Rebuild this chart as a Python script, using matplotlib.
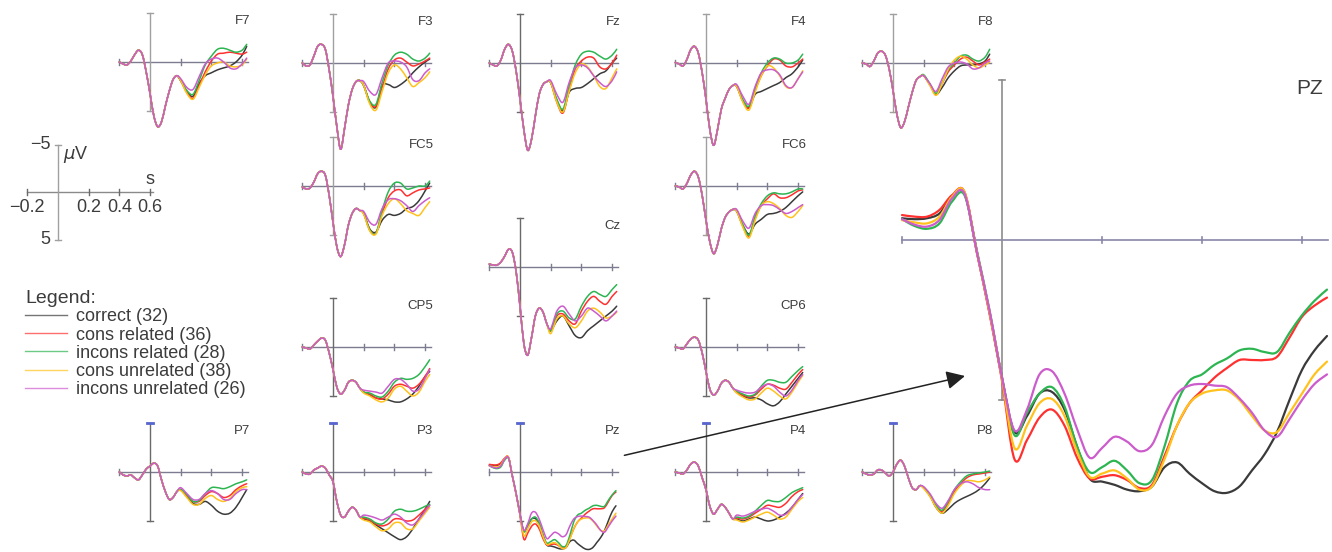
import matplotlib
matplotlib.use('Agg')
import matplotlib.pyplot as plt
from matplotlib.lines import Line2D
from matplotlib.patches import ConnectionPatch, PathPatch
from matplotlib.path import Path

plt.rcParams['font.family'] = ['Liberation Sans', 'DejaVu Sans']

# ---------------- data ----------------
conditions = ['correct (32)', 'cons related (36)', 'incons related (28)',
              'cons unrelated (38)', 'incons unrelated (26)']
cond_colors = ['#3a3a3a', '#ff3030', '#2db552', '#ffc21c', '#cc5ccc']

# time (s): early part is shared by all conditions, late part per condition
t_early = [-0.2, -0.175, -0.15, -0.125, -0.1, -0.075, -0.05, -0.025, 0.0,
           0.025, 0.05, 0.075, 0.1, 0.125, 0.15, 0.175]
t_late = [0.2, 0.24, 0.28, 0.32, 0.36, 0.40, 0.44, 0.48, 0.52, 0.56, 0.60, 0.63]

F7_early = [0.0, 0.2, 0.3, -0.1, -0.75, -1.2, -0.75, 1.0, 3.2, 5.5, 6.6, 6.1, 4.5, 3.0, 1.8, 1.4]
F7_late = [
    [1.9, 3.0, 3.5, 2.2, 1.4, 1.1, 0.8, 0.6, 0.4, 0.0, -0.7, -1.6],
    [1.9, 3.1, 3.7, 2.4, 1.0, -0.1, -0.8, -0.9, -1.0, -0.9, -0.8, -1.0],
    [1.9, 2.9, 3.3, 1.9, 0.3, -0.6, -1.3, -1.4, -1.2, -1.0, -1.2, -1.8],
    [1.9, 3.2, 3.8, 2.6, 1.3, 0.4, 0.1, 0.0, 0.4, 0.5, 0.3, -0.3],
    [1.7, 2.6, 2.8, 1.5, 0.2, -0.3, -0.4, 0.0, 0.6, 0.7, 0.2, -0.4]]

F3_early = [0.0, 0.3, 0.2, -0.7, -1.7, -1.9, -1.4, 0.7, 3.4, 6.5, 8.8, 6.7, 4.3, 2.7, 1.9, 1.8]
F3_late = [
    [2.3, 4.0, 4.5, 2.3, 2.2, 2.5, 2.2, 1.7, 1.0, 0.4, -0.1, -0.4],
    [2.3, 4.0, 4.4, 2.5, 0.6, -0.3, -0.5, -0.1, 0.3, 0.1, -0.2, -0.5],
    [2.3, 3.9, 4.2, 2.0, 0.2, -0.8, -1.1, -0.9, -0.4, -0.2, -0.5, -1.0],
    [2.3, 4.2, 4.8, 2.9, 1.0, 0.2, 0.6, 1.5, 2.4, 2.0, 1.5, 0.9],
    [1.9, 2.9, 3.2, 1.5, 0.0, -0.2, -0.1, 0.4, 1.7, 1.8, 1.0, 0.6]]

Fz_early = [0.0, 0.2, 0.3, -0.3, -1.4, -1.9, -1.2, 0.85, 3.7, 6.8, 8.9, 7.8, 5.4, 3.2, 2.2, 1.9]
Fz_late = [
    [2.0, 3.8, 4.9, 3.0, 2.6, 2.5, 2.1, 1.6, 1.1, 0.8, 0.0, -0.5],
    [2.0, 4.0, 5.1, 2.8, 0.6, -0.2, -0.6, -0.5, 0.4, 0.6, 0.0, -0.8],
    [2.0, 3.7, 4.7, 2.3, 0.2, -0.9, -1.2, -1.1, -0.7, -0.4, -0.8, -1.4],
    [2.0, 4.0, 5.0, 2.9, 1.0, 0.1, 0.4, 1.3, 2.4, 2.6, 1.5, 0.6],
    [1.8, 3.2, 4.0, 2.0, 0.5, 0.2, 0.5, 1.3, 2.0, 2.4, 1.8, 0.9]]

F4_early = [-0.05, 0.1, 0.3, -0.35, -1.35, -1.7, -1.0, 1.0, 3.7, 6.8, 8.4, 6.8, 4.7, 3.6, 2.7, 2.3]
F4_late = [
    [2.4, 3.8, 4.5, 3.2, 2.9, 2.6, 2.3, 2.0, 1.5, 1.1, 0.4, -0.3],
    [2.4, 3.9, 4.6, 2.8, 1.3, 0.3, -0.4, -0.3, 0.3, 0.4, 0.0, -0.4],
    [2.3, 3.8, 4.4, 2.6, 1.0, 0.0, -0.5, -0.4, 0.0, 0.0, -0.3, -0.9],
    [2.4, 4.0, 4.8, 3.0, 1.3, 0.3, 0.5, 1.3, 2.4, 2.5, 1.6, 0.8],
    [2.2, 3.4, 4.2, 2.4, 1.0, 0.7, 0.7, 1.2, 2.3, 2.5, 1.6, 0.9]]

F8_early = [0.0, 0.1, 0.35, -0.2, -1.0, -1.2, -0.8, 0.6, 2.8, 5.2, 6.6, 6.0, 4.5, 3.0, 1.8, 1.4]
F8_late = [
    [1.3, 2.2, 3.2, 2.5, 1.5, 0.8, 0.3, 0.2, 0.2, 0.1, -0.2, -0.9],
    [1.3, 2.2, 3.2, 2.1, 0.9, 0.2, -0.4, -0.6, -0.2, 0.2, -0.1, -0.4],
    [1.2, 2.1, 3.1, 2.0, 0.7, 0.0, -0.7, -0.8, -0.4, -0.2, -0.6, -1.4],
    [1.3, 2.3, 3.3, 2.1, 0.6, -0.3, -0.7, -0.4, 0.2, 0.5, 0.2, -0.1],
    [1.3, 2.1, 2.9, 1.6, 0.4, 0.0, -0.1, 0.1, 0.6, 0.5, 0.0, -0.2]]

FC5_early = [0.1, 0.3, 0.2, -0.4, -1.25, -1.5, -1.1, 0.95, 3.7, 6.2, 7.2, 6.0, 4.0, 2.8, 2.3, 2.5]
FC5_late = [
    [2.8, 4.4, 4.7, 3.5, 2.9, 3.0, 2.8, 2.3, 2.1, 1.5, 0.5, -0.3],
    [2.8, 4.5, 4.8, 2.8, 1.2, 0.5, 0.4, 1.0, 0.7, 0.4, 0.3, 0.2],
    [2.8, 4.5, 4.8, 2.5, 0.6, -0.3, -0.3, 0.3, 0.2, 0.0, 0.0, -0.5],
    [2.9, 4.6, 4.9, 3.0, 1.8, 1.3, 1.8, 2.5, 2.8, 3.0, 2.2, 1.6],
    [2.6, 3.7, 3.9, 2.3, 1.4, 1.3, 1.5, 2.0, 2.6, 2.0, 1.5, 1.2]]

FC6_early = [0.0, 0.1, 0.3, -0.25, -1.1, -1.5, -0.9, 0.95, 3.5, 5.7, 6.9, 6.0, 4.35, 3.2, 2.65, 2.4]
FC6_late = [
    [2.6, 4.0, 4.9, 3.9, 3.4, 2.9, 2.8, 2.6, 2.2, 1.6, 1.0, 0.6],
    [2.5, 4.1, 5.1, 3.3, 2.0, 1.3, 0.8, 1.2, 1.2, 0.9, 0.5, 0.4],
    [2.5, 4.0, 5.0, 3.1, 1.8, 1.0, 0.7, 0.8, 0.8, 0.6, 0.3, 0.3],
    [2.6, 4.2, 5.3, 3.5, 2.0, 1.6, 1.8, 2.3, 3.0, 3.2, 2.6, 2.0],
    [2.4, 3.6, 4.3, 2.8, 2.0, 1.9, 2.0, 2.4, 2.8, 2.6, 2.2, 1.9]]

Cz_early = [-0.3, -0.2, -0.2, -0.5, -1.1, -1.8, -1.5, 0.5, 4.0, 7.8, 9.0, 7.2, 5.0, 4.2, 4.6, 5.8]
Cz_late = [
    [6.5, 5.5, 5.0, 6.0, 7.0, 7.2, 6.5, 6.0, 5.5, 5.0, 4.5, 4.0],
    [6.5, 5.0, 4.8, 5.5, 5.8, 4.5, 3.5, 3.0, 3.5, 3.8, 3.0, 2.5],
    [6.5, 4.8, 4.5, 5.2, 5.3, 4.0, 3.0, 2.5, 2.8, 3.0, 2.3, 1.8],
    [6.8, 5.3, 5.0, 5.8, 6.2, 5.5, 4.5, 4.2, 4.6, 5.2, 5.0, 4.6],
    [6.3, 4.5, 4.0, 4.8, 5.5, 5.0, 4.2, 4.5, 5.0, 5.5, 5.0, 4.5]]

CP5_early = [0.0, 0.1, 0.2, -0.2, -0.6, -0.9, -0.7, 0.6, 2.3, 4.1, 4.8, 4.4, 3.6, 3.4, 3.6, 4.2]
CP5_late = [
    [4.6, 4.9, 5.2, 5.3, 5.4, 5.6, 5.6, 5.3, 4.8, 4.0, 3.0, 2.5],
    [4.6, 4.8, 5.2, 5.3, 4.8, 4.0, 3.8, 4.0, 4.2, 3.8, 3.0, 2.2],
    [4.6, 4.7, 5.0, 5.1, 4.5, 3.6, 3.2, 3.3, 3.2, 2.8, 2.0, 1.3],
    [4.7, 5.0, 5.4, 5.6, 5.2, 4.3, 4.0, 4.5, 5.0, 4.6, 3.5, 2.8],
    [4.4, 4.5, 4.6, 4.7, 4.0, 3.3, 3.3, 3.8, 4.5, 4.3, 3.2, 2.3]]

CP6_early = [0.0, 0.1, 0.2, -0.3, -0.8, -1.0, -0.7, 0.6, 2.5, 4.3, 4.9, 4.5, 3.7, 3.4, 3.6, 4.2]
CP6_late = [
    [4.6, 5.0, 5.2, 5.2, 5.4, 5.8, 6.0, 5.6, 4.8, 4.0, 3.2, 2.6],
    [4.6, 4.9, 5.1, 4.9, 4.3, 3.8, 3.9, 4.2, 4.3, 3.6, 2.8, 2.3],
    [4.5, 4.8, 5.0, 4.8, 4.0, 3.4, 3.4, 3.6, 3.6, 3.0, 2.4, 2.0],
    [4.7, 5.1, 5.4, 5.3, 4.7, 4.2, 4.5, 5.0, 5.3, 4.6, 3.6, 2.9],
    [4.4, 4.6, 4.7, 4.6, 4.1, 3.8, 4.0, 4.6, 5.0, 4.4, 3.4, 2.8]]

P7_early = [0.0, 0.3, 0.4, 0.3, 0.6, 0.8, 0.3, -0.3, -0.6, -0.9, -0.6, 0.8, 2.0, 2.8, 2.6, 2.0]
P7_late = [
    [1.8, 2.5, 3.2, 3.3, 3.0, 3.4, 4.0, 4.3, 4.2, 3.6, 2.6, 1.8],
    [1.8, 2.4, 3.0, 3.0, 2.4, 2.0, 2.2, 2.6, 2.4, 1.8, 1.4, 1.2],
    [1.8, 2.3, 3.0, 2.9, 2.2, 1.6, 1.6, 1.7, 1.5, 1.2, 1.0, 0.8],
    [1.9, 2.6, 3.3, 3.3, 2.7, 2.4, 2.8, 3.0, 2.7, 2.0, 1.6, 1.5],
    [1.6, 2.2, 2.8, 2.8, 2.2, 1.9, 2.2, 2.8, 2.8, 2.2, 1.8, 1.8]]

P3_early = [0.0, 0.2, 0.2, -0.2, -0.4, -0.6, -0.4, 0.3, 1.0, 3.0, 4.4, 4.6, 4.0, 3.6, 3.9, 4.6]
P3_late = [
    [4.8, 5.0, 5.4, 5.8, 6.2, 6.6, 6.9, 6.6, 5.8, 4.8, 3.8, 3.0],
    [4.7, 4.9, 5.3, 5.5, 5.3, 4.8, 4.8, 5.0, 4.9, 4.4, 3.8, 3.4],
    [4.6, 4.8, 5.2, 5.3, 4.8, 4.0, 3.8, 4.0, 4.0, 3.8, 3.5, 3.3],
    [4.9, 5.1, 5.6, 6.0, 5.8, 5.2, 5.2, 5.8, 5.8, 5.0, 4.2, 3.6],
    [4.4, 4.5, 4.7, 4.9, 4.6, 4.3, 4.6, 5.2, 5.4, 4.8, 4.0, 3.4]]

P4_early = [0.0, 0.1, 0.2, -0.2, -0.8, -1.0, -0.6, 0.6, 1.8, 3.5, 4.3, 3.8, 3.3, 3.6, 4.2, 4.8]
P4_late = [
    [4.8, 5.0, 4.8, 4.6, 4.8, 5.0, 4.9, 4.6, 4.2, 3.6, 2.8, 2.2],
    [4.7, 4.8, 4.6, 4.2, 3.8, 3.4, 3.5, 3.6, 3.2, 2.5, 2.0, 1.8],
    [4.6, 4.7, 4.5, 4.0, 3.4, 2.9, 3.0, 3.0, 2.6, 2.1, 1.8, 1.6],
    [4.9, 5.1, 4.9, 4.6, 4.3, 4.1, 4.4, 4.8, 4.6, 3.8, 3.0, 2.6],
    [4.4, 4.5, 4.3, 4.0, 3.8, 3.7, 4.0, 4.4, 4.3, 3.6, 2.8, 2.3]]

P8_early = [0.0, 0.2, 0.3, 0.2, -0.2, -0.2, 0.1, 0.4, 0.0, -0.8, -1.2, -0.6, 0.6, 1.6, 1.8, 1.4]
P8_late = [
    [1.6, 2.4, 3.6, 4.2, 3.8, 3.2, 2.8, 2.5, 2.2, 1.8, 1.2, 0.6],
    [1.6, 2.4, 3.5, 4.0, 3.2, 2.0, 1.2, 0.6, 0.3, 0.2, 0.1, 0.0],
    [1.6, 2.4, 3.4, 3.9, 3.0, 1.8, 1.0, 0.4, 0.2, 0.1, 0.0, -0.1],
    [1.7, 2.5, 3.6, 4.2, 3.4, 2.2, 1.4, 0.9, 0.9, 1.0, 0.8, 0.5],
    [1.5, 2.2, 3.2, 3.7, 2.9, 1.8, 1.2, 1.0, 1.2, 1.6, 1.8, 1.8]]

# Pz (shown small and enlarged)
PZ_t = [-0.2, -0.175, -0.15, -0.125, -0.1, -0.075, -0.05, -0.025, 0.0, 0.025,
        0.05, 0.075, 0.1, 0.125, 0.15, 0.175, 0.2, 0.225, 0.25, 0.275, 0.3,
        0.325, 0.35, 0.375, 0.4, 0.425, 0.45, 0.475, 0.5, 0.525, 0.55, 0.575,
        0.6, 0.625, 0.65]
PZ_correct = [-0.68, -0.65, -0.68, -0.83, -1.35, -1.45, 0.4, 2.25, 4.3, 6.0, 5.5, 4.8,
              4.75, 5.3, 6.45, 7.45, 7.55, 7.65, 7.8, 7.85, 7.7, 7.1, 6.95, 7.3, 7.6,
              7.85, 7.9, 7.7, 7.2, 6.7, 6.0, 5.0, 4.06, 3.45, 3.0]
PZ_cons_rel = [-0.78, -0.73, -0.73, -0.94, -1.4, -1.5, 0.4, 2.3, 4.4, 6.85, 6.25, 5.55,
               5.3, 5.8, 6.8, 7.45, 7.4, 7.35, 7.5, 7.75, 7.65, 6.75, 5.8, 5.1, 4.7,
               4.3, 4.0, 3.75, 3.75, 3.75, 3.65, 3.05, 2.4, 2.05, 1.8]
PZ_incons_rel = [-0.65, -0.44, -0.35, -0.52, -1.2, -1.4, 0.35, 2.2, 4.3, 6.1, 5.4, 4.8,
                 4.6, 5.2, 6.45, 7.25, 7.1, 6.9, 7.2, 7.6, 7.5, 6.45, 5.1, 4.4, 4.2,
                 3.9, 3.7, 3.45, 3.4, 3.5, 3.5, 2.9, 2.35, 1.9, 1.55]
PZ_cons_unrel = [-0.62, -0.55, -0.52, -0.73, -1.35, -1.5, 0.4, 2.25, 4.35, 6.5, 5.8, 5.1,
                 4.97, 5.5, 6.6, 7.4, 7.3, 7.2, 7.45, 7.8, 7.7, 6.85, 5.8, 5.1, 4.8,
                 4.7, 4.7, 5.0, 5.5, 5.95, 6.0, 5.4, 4.8, 4.2, 3.8]
PZ_incons_unrel = [-0.65, -0.48, -0.42, -0.63, -1.3, -1.45, 0.4, 2.2, 4.3, 5.95, 5.3, 4.2,
                   4.1, 4.8, 5.9, 6.8, 6.5, 6.15, 6.3, 6.6, 6.4, 5.5, 4.8, 4.55, 4.5,
                   4.55, 4.6, 4.95, 5.4, 5.95, 6.15, 5.6, 5.0, 4.5, 4.2]

electrode_names = ['F7', 'F3', 'Fz', 'F4', 'F8', 'FC5', 'FC6', 'Cz', 'CP5', 'CP6',
                   'P7', 'P3', 'Pz', 'P4', 'P8']

# ---------------- layout (pixel positions of each panel origin) ----------------
W, H = 1332, 552
layout = {'F7': (150, 62), 'F3': (333, 63), 'Fz': (520, 63), 'F4': (706, 63), 'F8': (893, 63),
          'FC5': (333, 186), 'FC6': (706, 186), 'Cz': (520, 267),
          'CP5': (333, 347), 'CP6': (706, 347),
          'P7': (150, 472), 'P3': (333, 472), 'Pz': (520, 472), 'P4': (706, 472), 'P8': (893, 472)}

series_data = {
    'F7': (F7_early, F7_late), 'F3': (F3_early, F3_late), 'Fz': (Fz_early, Fz_late),
    'F4': (F4_early, F4_late), 'F8': (F8_early, F8_late), 'FC5': (FC5_early, FC5_late),
    'FC6': (FC6_early, FC6_late), 'Cz': (Cz_early, Cz_late), 'CP5': (CP5_early, CP5_late),
    'CP6': (CP6_early, CP6_late), 'P7': (P7_early, P7_late), 'P3': (P3_early, P3_late),
    'P4': (P4_early, P4_late), 'P8': (P8_early, P8_late)}
PZ_series = [PZ_correct, PZ_cons_rel, PZ_incons_rel, PZ_cons_unrel, PZ_incons_unrel]

fig = plt.figure(figsize=(W / 100, H / 100), dpi=100)


def place_axes(x0, y0, sx, sy, tlim, vlim):
    left = x0 + tlim[0] * sx
    right = x0 + tlim[1] * sx
    top = y0 + vlim[0] * sy
    bottom = y0 + vlim[1] * sy
    ax = fig.add_axes([left / W, 1 - bottom / H, (right - left) / W, (bottom - top) / H])
    ax.set_xlim(tlim[0], tlim[1])
    ax.set_ylim(vlim[1], vlim[0])
    ax.axis('off')
    return ax


def smooth_line(ax, t, v, color, lw, z):
    """Draw the data points joined by a smooth (Catmull-Rom style) Bezier path."""
    n = len(t)
    verts = [(t[0], v[0])]
    codes = [Path.MOVETO]
    for i in range(n - 1):
        a, b = max(i - 1, 0), min(i + 2, n - 1)
        c1 = (t[i] + (t[i + 1] - t[a]) / 6.0, v[i] + (v[i + 1] - v[a]) / 6.0)
        c2 = (t[i + 1] - (t[b] - t[i]) / 6.0, v[i + 1] - (v[b] - v[i]) / 6.0)
        verts += [c1, c2, (t[i + 1], v[i + 1])]
        codes += [Path.CURVE4] * 3
    ax.add_patch(PathPatch(Path(verts, codes), fill=False, edgecolor=color, lw=lw,
                           zorder=z, capstyle='round', joinstyle='round'))


def draw_axes_lines(ax, tmax, hcol, vcol, tick_dt, tick_dv, lw, top_mark=False):
    ax.plot([-0.2, tmax], [0, 0], color=hcol, lw=lw, zorder=1)
    for tk in (-0.2, 0.2, 0.4, 0.6):
        ax.plot([tk, tk], [-tick_dv, tick_dv], color=hcol, lw=lw, zorder=1)
    ax.plot([0, 0], [-5, 5], color=vcol, lw=lw, zorder=1)
    for v in (-5, 5):
        ax.plot([-tick_dt, tick_dt], [v, v], color=vcol, lw=lw, zorder=1)
    if top_mark:
        ax.plot([-tick_dt, tick_dt], [-5, -5], color='#5866d0', lw=2.0, zorder=1)


SX, SY = 153.5, 9.8
for name in electrode_names:
    x0, y0 = layout[name]
    ax = place_axes(x0, y0, SX, SY, (-0.25, 0.72), (-5.8, 10.0))
    prow = name.startswith('P')
    vcol = '#6a6a6a' if (prow or name in ('Cz', 'CP5', 'CP6', 'Fz')) else '#a0a0a0'
    draw_axes_lines(ax, 0.64, '#7c7c90', vcol, 0.018, 0.35, 1.0, top_mark=prow)
    if name == 'Pz':
        for k in range(5):
            smooth_line(ax, PZ_t[:-1], PZ_series[k][:-1], cond_colors[k], 1.1, 2 + k)
    else:
        early, late = series_data[name]
        for k in range(5):
            smooth_line(ax, t_early + t_late, early + late[k], cond_colors[k], 1.1, 2 + k)
    ax.text(0.655, -4.2, name, ha='right', va='center', fontsize=9.5, color='#3c3c3c')
    layout[name] = ax

# ---------------- enlarged PZ ----------------
axPZ = place_axes(1002, 240, 500, 32, (-0.23, 0.66), (-5.3, 9.0))
draw_axes_lines(axPZ, 0.652, '#8a86aa', '#8c8c8c', 0.006, 0.1, 1.2)
for k in range(5):
    smooth_line(axPZ, PZ_t, PZ_series[k], cond_colors[k], 1.6, 2 + k)
axPZ.text(0.642, -4.75, 'PZ', ha='right', va='center', fontsize=15, color='#3c3c3c')

# ---------------- scale bar ----------------
axS = place_axes(58, 192, SX, 9.5, (-0.3, 0.75), (-6.5, 6.5))
axS.plot([-0.2, 0.62], [0, 0], color='#8a8a8a', lw=1.0)
for tk in (-0.2, 0.2, 0.4, 0.6):
    axS.plot([tk, tk], [-0.35, 0.35], color='#6a6a6a', lw=1.0)
axS.plot([0, 0], [-5, 5], color='#a0a0a0', lw=1.0)
for v in (-5, 5):
    axS.plot([-0.02, 0.02], [v, v], color='#a0a0a0', lw=1.0)
lab_kw = dict(fontsize=13, color='#3c3c3c')
axS.text(-0.05, -5, '\u22125', ha='right', va='center', **lab_kw)
axS.text(-0.05, 5, '5', ha='right', va='center', **lab_kw)
axS.text(0.03, -4.0, r'$\mu$V', ha='left', va='center', **lab_kw)
axS.text(0.6, -1.3, 's', ha='center', va='center', **lab_kw)
for tk, lab in ((-0.2, '\u22120.2'), (0.2, '0.2'), (0.4, '0.4'), (0.6, '0.6')):
    axS.text(tk, 1.6, lab, ha='center', va='center', **lab_kw)

# ---------------- legend ----------------
handles = [Line2D([0], [0], color=c, lw=1.0, alpha=0.7) for c in cond_colors]
leg = fig.legend(handles, conditions, title='Legend:', loc='upper left',
                 bbox_to_anchor=(25 / W, 1 - 290 / H), frameon=False, fontsize=13,
                 title_fontsize=14, handlelength=2.3, handletextpad=0.5,
                 labelspacing=0.07, borderaxespad=0, borderpad=0, alignment='left')
for txt in leg.get_texts():
    txt.set_color('#3c3c3c')
leg.get_title().set_color('#3c3c3c')

# ---------------- arrow from small Pz to enlarged PZ ----------------
arrow = ConnectionPatch(xyA=(0.68, -1.7), coordsA=layout['Pz'].transData,
                        xyB=(-0.074, 4.25), coordsB=axPZ.transData,
                        arrowstyle='-|>', mutation_scale=28, color='#222222', lw=1.1)
fig.add_artist(arrow)

fig.savefig('out.png', dpi=100)
